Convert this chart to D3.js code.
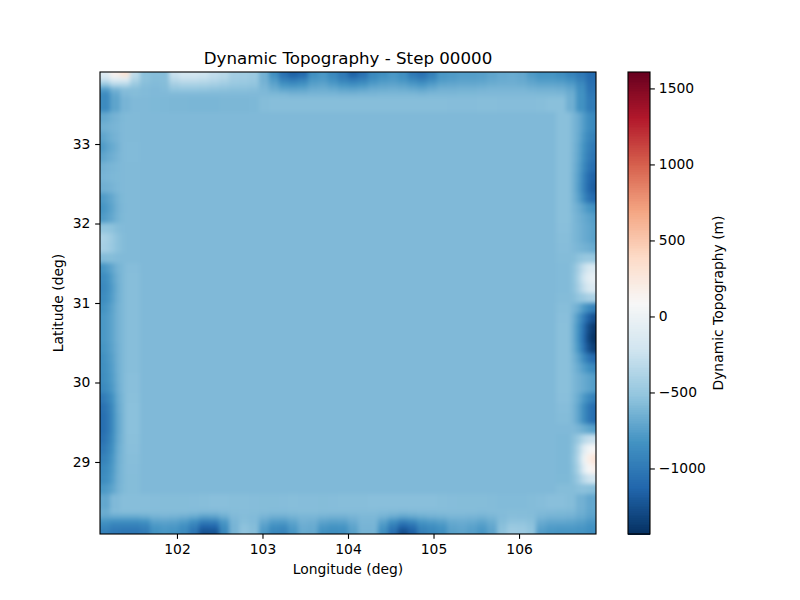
<!DOCTYPE html>
<html>
<head>
<meta charset="utf-8">
<script src="https://cdn.jsdelivr.net/npm/d3@7"></script>
<style>
  body { margin: 0; background: #fff; }
  text { font-family: "DejaVu Sans", sans-serif; fill: #000; }
</style>
</head>
<body>
<div id="chart"></div>
<script>
const lonTicks = [102, 103, 104, 105, 106]
const latTicks = [29, 30, 31, 32, 33]
const colorTicks = [-1000, -500, 0, 500, 1000, 1500]
const lonRange = [101.1, 106.9]
const latRange = [28.094, 33.906]
const valueRange = [-1431, 1608]
const interiorValue = -590

// RdBu_r stops
const rdbuStops = ['#053061', '#2166ac', '#4393c3', '#92c5de', '#d1e5f0', '#f7f7f7', '#fddbc7', '#f4a582', '#d6604d', '#b2182b', '#67001f']

// edge readings in metres, outermost layer first
const north0 = [-100,150,300,-300,-540,-560,-560,-250,-180,-180,-220,-290,-330,-430,-440,-470,-640,-850,-1050,-1150,-1100,-850,-800,-900,-1000,-1150,-1050,-900,-850,-800,-850,-1000,-1050,-950,-800,-780,-760,-760,-750,-720,-690,-680,-700,-780,-820,-820,-860,-930,-1000,-1100]
const north1 = [-250,-100,-100,-380,-540,-570,-560,-330,-280,-280,-300,-340,-380,-450,-460,-490,-640,-780,-950,-1000,-950,-800,-780,-850,-950,-1000,-950,-850,-800,-780,-820,-900,-950,-880,-780,-760,-740,-740,-730,-700,-680,-670,-690,-740,-780,-780,-800,-850,-950,-1080]
const north2 = [-500,-350,-350,-480,-560,-580,-570,-430,-400,-400,-410,-430,-460,-490,-500,-520,-620,-720,-820,-850,-820,-740,-720,-770,-820,-850,-820,-760,-730,-720,-740,-780,-810,-760,-710,-700,-690,-690,-680,-660,-650,-650,-660,-690,-710,-710,-720,-760,-880,-1050]
const north3 = [-760,-620,-560,-560,-580,-590,-580,-520,-510,-510,-520,-530,-540,-550,-550,-560,-600,-660,-710,-720,-710,-670,-660,-680,-710,-720,-700,-670,-660,-650,-660,-680,-700,-670,-640,-640,-630,-630,-620,-610,-610,-610,-610,-630,-640,-640,-650,-700,-850,-1030]
const north4 = [-880,-700,-590,-570,-580,-590,-590,-590,-590,-590,-590,-590,-590,-590,-590,-590,-590,-595,-600,-620,-620,-610,-610,-610,-620,-620,-610,-610,-600,-600,-600,-600,-610,-600,-600,-600,-595,-595,-590,-590,-590,-590,-590,-590,-595,-595,-600,-660,-830,-1000]
const north5 = [-880,-720,-620,-590,-590,-595,-600,-605,-605,-610,-610,-610,-605,-605,-605,-600,-570,-560,-560,-560,-560,-560,-560,-560,-560,-560,-560,-560,-560,-560,-560,-560,-560,-560,-560,-565,-565,-565,-560,-560,-565,-565,-565,-565,-560,-550,-550,-650,-830,-980]
const west0 = [-100,-750,-950,-900,-700,-650,-720,-780,-720,-640,-620,-650,-780,-820,-780,-520,-400,-420,-580,-820,-880,-900,-880,-830,-800,-800,-800,-820,-850,-860,-870,-900,-1000,-1060,-1080,-1080,-1050,-1000,-950,-900,-880,-800,-720,-680,-800,-950]
const west1 = [-100,-600,-800,-820,-680,-640,-680,-720,-680,-620,-610,-640,-740,-770,-740,-520,-430,-440,-570,-770,-830,-850,-830,-790,-770,-770,-770,-780,-800,-810,-820,-850,-930,-990,-1010,-1010,-980,-940,-900,-860,-840,-770,-700,-670,-770,-900]
const west2 = [-200,-560,-700,-720,-640,-620,-640,-680,-650,-610,-600,-620,-690,-710,-690,-540,-480,-490,-570,-700,-740,-760,-750,-720,-710,-710,-710,-720,-740,-750,-760,-780,-830,-870,-880,-880,-860,-830,-800,-780,-760,-720,-670,-650,-720,-830]
const west3 = [-300,-560,-640,-650,-620,-610,-620,-640,-620,-600,-595,-600,-630,-640,-630,-570,-540,-540,-580,-630,-650,-660,-655,-640,-640,-640,-640,-645,-650,-655,-660,-670,-690,-700,-710,-710,-700,-680,-670,-660,-650,-640,-620,-610,-650,-730]
const west4 = [-400,-570,-600,-600,-595,-590,-590,-590,-590,-590,-590,-590,-595,-600,-595,-580,-570,-570,-585,-600,-600,-600,-600,-600,-600,-600,-600,-600,-600,-600,-600,-600,-610,-615,-620,-620,-615,-610,-605,-600,-600,-595,-585,-580,-620,-700]
const west5 = [-560,-570,-580,-585,-585,-585,-585,-580,-580,-585,-585,-585,-585,-585,-585,-585,-585,-585,-585,-565,-560,-560,-560,-560,-560,-560,-560,-560,-560,-560,-555,-555,-550,-545,-545,-545,-550,-555,-560,-565,-570,-570,-565,-560,-600,-650]
const east0 = [-1000,-950,-950,-950,-900,-900,-950,-1000,-1030,-1080,-1150,-1180,-1100,-850,-760,-740,-740,-680,-500,-150,-40,-130,-400,-950,-1250,-1380,-1420,-1350,-1100,-900,-760,-760,-950,-1080,-1080,-750,-250,100,280,150,-200,-560,-700,-660,-700,-860]
const east1 = [-950,-900,-900,-900,-860,-860,-900,-940,-970,-1020,-1080,-1100,-1030,-800,-720,-700,-700,-650,-480,-170,-80,-160,-420,-880,-1150,-1270,-1300,-1240,-1020,-840,-720,-720,-880,-1000,-1000,-710,-280,30,180,70,-230,-550,-670,-640,-680,-830]
const east2 = [-850,-780,-780,-780,-760,-760,-790,-820,-840,-880,-920,-930,-880,-730,-680,-670,-670,-630,-500,-280,-220,-280,-470,-780,-970,-1060,-1080,-1030,-880,-760,-680,-680,-780,-860,-860,-660,-350,-120,-20,-100,-320,-540,-640,-620,-650,-780]
const east3 = [-720,-680,-680,-680,-670,-670,-680,-700,-710,-730,-750,-760,-730,-660,-640,-630,-630,-610,-530,-420,-390,-420,-510,-670,-790,-830,-840,-810,-730,-680,-640,-640,-680,-720,-720,-620,-470,-370,-340,-380,-460,-550,-610,-610,-620,-700]
const east4 = [-660,-620,-620,-620,-610,-610,-610,-615,-620,-630,-640,-640,-630,-610,-600,-600,-600,-590,-570,-540,-530,-540,-560,-610,-650,-670,-670,-660,-630,-610,-600,-600,-610,-620,-620,-590,-550,-530,-520,-530,-550,-570,-590,-590,-600,-650]
const east5 = [-570,-565,-560,-555,-550,-550,-550,-550,-550,-550,-550,-550,-550,-550,-550,-555,-560,-565,-575,-580,-580,-580,-575,-560,-555,-550,-550,-550,-550,-550,-550,-550,-555,-565,-575,-590,-600,-600,-600,-600,-595,-570,-555,-555,-570,-650]
const south0 = [-950,-1000,-1020,-1020,-980,-830,-800,-820,-880,-1020,-1230,-1220,-900,-620,-530,-560,-780,-900,-920,-800,-680,-690,-830,-860,-850,-740,-630,-630,-850,-1050,-1250,-1150,-950,-900,-850,-740,-720,-750,-800,-720,-540,-460,-470,-520,-760,-800,-810,-810,-820,-850]
const south1 = [-900,-950,-960,-960,-930,-800,-780,-790,-850,-960,-1130,-1120,-860,-620,-540,-570,-750,-850,-870,-770,-670,-680,-790,-820,-810,-720,-620,-620,-800,-980,-1130,-1060,-900,-860,-810,-720,-700,-730,-770,-700,-550,-480,-490,-530,-720,-760,-770,-770,-790,-830]
const south2 = [-820,-850,-860,-860,-830,-730,-720,-730,-770,-850,-960,-950,-790,-610,-560,-580,-690,-760,-770,-710,-640,-650,-720,-740,-730,-670,-610,-610,-730,-850,-950,-900,-800,-770,-740,-680,-670,-680,-710,-660,-570,-530,-530,-550,-670,-700,-700,-710,-740,-790]
const south3 = [-700,-680,-680,-680,-660,-630,-620,-630,-650,-680,-730,-720,-660,-590,-570,-580,-620,-650,-650,-630,-610,-610,-630,-640,-640,-620,-600,-600,-630,-670,-710,-690,-660,-640,-630,-610,-610,-620,-630,-610,-580,-560,-565,-570,-610,-630,-630,-640,-680,-730]
const south4 = [-660,-580,-570,-565,-570,-575,-575,-575,-575,-580,-590,-590,-580,-570,-565,-570,-575,-580,-580,-575,-570,-570,-575,-575,-575,-575,-575,-575,-580,-585,-590,-585,-580,-580,-575,-575,-575,-575,-580,-575,-575,-570,-570,-575,-585,-590,-595,-600,-650,-710]
const south5 = [-700,-590,-560,-560,-560,-565,-570,-570,-570,-565,-560,-555,-555,-560,-560,-565,-570,-570,-565,-560,-565,-565,-570,-565,-560,-560,-560,-555,-555,-555,-555,-555,-555,-555,-560,-565,-570,-570,-570,-575,-580,-580,-580,-575,-565,-555,-555,-570,-640,-700]

const northRows = [north0, north1, north2, north3, north4, north5]
const southRows = [south0, south1, south2, south3, south4, south5]
const westCols = [west0, west1, west2, west3, west4, west5]
const eastCols = [east0, east1, east2, east3, east4, east5]

const width = 800, height = 600
const plot = { left: 100, right: 596, top: 72, bottom: 534 }
const bar = { left: 628, right: 650 }
const tickLen = 4.86, tickPad = 4.86

const svg = d3.select('#chart').append('svg')
  .attr('width', width)
  .attr('height', height)
  .style('display', 'block')

const x = d3.scaleLinear().domain(lonRange).range([plot.left, plot.right])
const y = d3.scaleLinear().domain(latRange).range([plot.bottom, plot.top])
const valueY = d3.scaleLinear().domain(valueRange).range([plot.bottom, plot.top])

const color = d3.scaleLinear()
  .domain(rdbuStops.map((c, i) => valueRange[0] + (valueRange[1] - valueRange[0]) * i / (rdbuStops.length - 1)))
  .range(rdbuStops)
  .interpolate(d3.interpolateRgb)

// cells along the edges, and how deep each layer reaches into the plot
const alongX = d3.scaleBand().domain(d3.range(north0.length)).range([plot.left, plot.right])
const alongY = d3.scaleBand().domain(d3.range(west0.length)).range([plot.top, plot.bottom])
const depth = d3.scaleLinear().domain([0, 1]).range([0, 5.02])
const layerEdges = [0, 1, 2, 3, 4, 5, 8]

// soften the cell steps, alpha forced back to 1 so the plot edge keeps its colour
const defs = svg.append('defs')
const soften = defs.append('filter')
  .attr('id', 'soften')
  .attr('filterUnits', 'userSpaceOnUse')
  .attr('x', plot.left - 10)
  .attr('y', plot.top - 10)
  .attr('width', plot.right - plot.left + 20)
  .attr('height', plot.bottom - plot.top + 20)
  .attr('color-interpolation-filters', 'sRGB')
soften.append('feGaussianBlur').attr('stdDeviation', 2.2)
soften.append('feComponentTransfer')
  .append('feFuncA')
  .attr('type', 'discrete')
  .attr('tableValues', '1')

defs.append('clipPath')
  .attr('id', 'plot-clip')
  .append('rect')
  .attr('x', plot.left)
  .attr('y', plot.top)
  .attr('width', plot.right - plot.left)
  .attr('height', plot.bottom - plot.top)

const heat = svg.append('g')
  .attr('clip-path', 'url(#plot-clip)')
  .append('g')
  .attr('filter', 'url(#soften)')
  .attr('shape-rendering', 'crispEdges')

heat.append('rect')
  .attr('x', plot.left)
  .attr('y', plot.top)
  .attr('width', plot.right - plot.left)
  .attr('height', plot.bottom - plot.top)
  .attr('fill', color(interiorValue))

function sideCells(cols, name) {
  const cells = cols.flatMap((c, layer) => c.map((v, i) => ({ v, i, layer })))
  heat.selectAll('rect.' + name)
    .data(cells)
    .join('rect')
    .attr('class', name)
    .attr('x', d => name == 'west'
      ? plot.left + depth(layerEdges[d.layer])
      : plot.right - depth(layerEdges[d.layer + 1]))
    .attr('y', d => alongY(d.i))
    .attr('width', d => depth(layerEdges[d.layer + 1]) - depth(layerEdges[d.layer]))
    .attr('height', alongY.bandwidth())
    .attr('fill', d => color(d.v))
}

function endCells(rows, name) {
  const cells = rows.flatMap((r, layer) => r.map((v, i) => ({ v, i, layer })))
  heat.selectAll('rect.' + name)
    .data(cells)
    .join('rect')
    .attr('class', name)
    .attr('x', d => alongX(d.i))
    .attr('y', d => name == 'north'
      ? plot.top + depth(layerEdges[d.layer])
      : plot.bottom - depth(layerEdges[d.layer + 1]))
    .attr('width', alongX.bandwidth())
    .attr('height', d => depth(layerEdges[d.layer + 1]) - depth(layerEdges[d.layer]))
    .attr('fill', d => color(d.v))
}

sideCells(westCols, 'west')
sideCells(eastCols, 'east')
endCells(northRows, 'north')
endCells(southRows, 'south')

function styleAxis(g) {
  g.selectAll('.tick line').attr('stroke', '#000').attr('stroke-width', 1.11)
  g.selectAll('.tick text').style('font-size', '13.89px').attr('fill', '#000')
  g.select('.domain').remove()
}

svg.append('g')
  .attr('transform', `translate(0,${plot.bottom})`)
  .call(d3.axisBottom(x).tickValues(lonTicks).tickFormat(d3.format('d')).tickSize(tickLen).tickPadding(tickPad))
  .call(styleAxis)

svg.append('g')
  .attr('transform', `translate(${plot.left},0)`)
  .call(d3.axisLeft(y).tickValues(latTicks).tickFormat(d3.format('d')).tickSize(tickLen).tickPadding(tickPad))
  .call(styleAxis)

svg.append('rect')
  .attr('x', plot.left)
  .attr('y', plot.top)
  .attr('width', plot.right - plot.left)
  .attr('height', plot.bottom - plot.top)
  .attr('fill', 'none')
  .attr('stroke', '#000')
  .attr('stroke-width', 1.11)

// colorbar
const levels = d3.range(256).map(i => valueRange[0] + (valueRange[1] - valueRange[0]) * i / 256)
const levelStep = (valueRange[1] - valueRange[0]) / 256

svg.append('g')
  .attr('shape-rendering', 'crispEdges')
  .selectAll('rect')
  .data(levels)
  .join('rect')
  .attr('x', bar.left)
  .attr('y', d => valueY(d + levelStep))
  .attr('width', bar.right - bar.left)
  .attr('height', d => valueY(d) - valueY(d + levelStep) + 0.5)
  .attr('fill', d => color(d + levelStep / 2))

svg.append('g')
  .attr('transform', `translate(${bar.right},0)`)
  .call(d3.axisRight(valueY).tickValues(colorTicks).tickFormat(d3.format('d')).tickSize(tickLen).tickPadding(4))
  .call(styleAxis)

svg.append('rect')
  .attr('x', bar.left)
  .attr('y', plot.top)
  .attr('width', bar.right - bar.left)
  .attr('height', plot.bottom - plot.top)
  .attr('fill', 'none')
  .attr('stroke', '#000')
  .attr('stroke-width', 1.11)

// labels
svg.append('text')
  .attr('x', (plot.left + plot.right) / 2)
  .attr('y', 64)
  .attr('text-anchor', 'middle')
  .style('font-size', '16.67px')
  .text('Dynamic Topography - Step 00000')

svg.append('text')
  .attr('x', (plot.left + plot.right) / 2)
  .attr('y', 574)
  .attr('text-anchor', 'middle')
  .style('font-size', '13.89px')
  .text('Longitude (deg)')

svg.append('text')
  .attr('transform', `translate(63,${(plot.top + plot.bottom) / 2}) rotate(-90)`)
  .attr('text-anchor', 'middle')
  .style('font-size', '13.89px')
  .text('Latitude (deg)')

svg.append('text')
  .attr('transform', `translate(723,${(plot.top + plot.bottom) / 2}) rotate(-90)`)
  .attr('text-anchor', 'middle')
  .style('font-size', '13.89px')
  .text('Dynamic Topography (m)')
</script>
</body>
</html>
